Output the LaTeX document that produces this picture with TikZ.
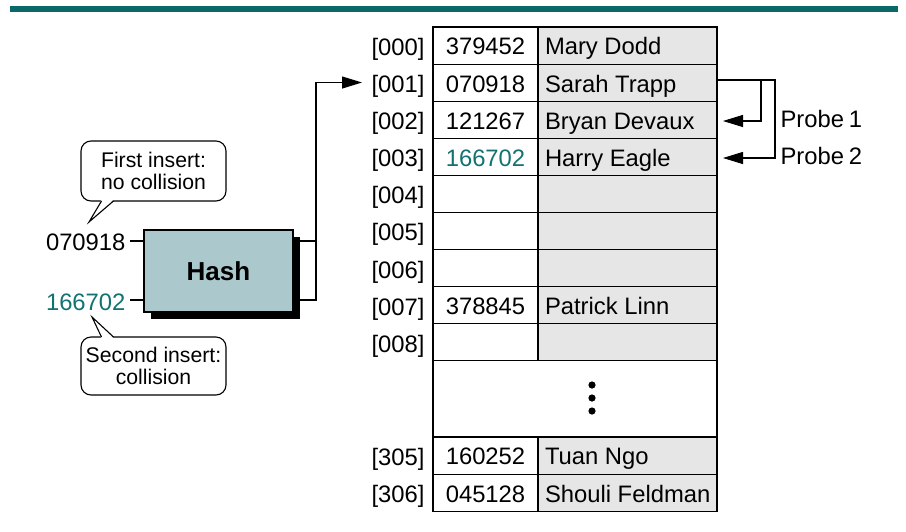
\documentclass[tikz,border=0pt]{standalone}
\usepackage{fontspec}
\setmainfont{Liberation Sans}
\usetikzlibrary{arrows.meta,shadows}
\definecolor{barteal}{HTML}{0B6868}
\definecolor{txtteal}{HTML}{127272}
\definecolor{hashfill}{HTML}{ABC9CC}
\definecolor{namegray}{HTML}{E6E6E6}
\newcommand{\mainfs}{\fontsize{23.8}{28}\selectfont}
\newcommand{\callfs}{\fontsize{21.2}{22}\selectfont}
\begin{document}
\begin{tikzpicture}[x=1pt,y=-1pt,line width=1.1pt,line join=miter,
  numcell/.style={draw,fill=white,minimum width=105pt,minimum height=37.1pt,inner sep=0pt,
    text height=16.8pt,text depth=0pt,font=\mainfs},
  namecell/.style={draw,fill=namegray,minimum width=179pt,minimum height=37.1pt,inner xsep=7pt,inner ysep=0pt,
    text height=16.8pt,text depth=0pt,font=\mainfs},
  idxlab/.style={anchor=east,inner sep=0pt,text height=16.8pt,text depth=0pt,font=\mainfs},
  plain/.style={inner sep=0pt,text height=16.8pt,text depth=0pt,font=\mainfs},
  arr/.style={-{Triangle[length=20pt,width=12pt]}},
  callbox/.style={draw,fill=white,rounded corners=10pt,minimum width=145pt,align=center,font=\callfs,inner sep=0pt},
  hashbox/.style={draw,fill=hashfill,minimum width=149pt,minimum height=82pt,font=\fontsize{26}{30}\selectfont\bfseries,
    drop shadow={shadow xshift=7pt,shadow yshift=-7pt,opacity=1,fill=black}}]
\useasboundingbox (0,0) rectangle (906,531);
% top bar
\fill[barteal] (10,6) rectangle (898,12);
% table rows
\foreach \i/\yc/\idx/\num/\nm in {
  0/45.55/000/379452/Mary Dodd,
  1/82.65/001/070918/Sarah Trapp,
  2/119.75/002/121267/Bryan Devaux,
  3/156.85/003/{\textcolor{txtteal}{166702}}/Harry Eagle,
  4/193.95/004/{}/{},
  5/231.05/005/{}/{},
  6/268.15/006/{}/{},
  7/305.25/007/378845/Patrick Linn,
  8/342.35/008/{}/{},
  9/455.5/305/160252/Tuan Ngo,
  10/492.6/306/045128/Shouli Feldman}{
  \node[numcell] (n\i) at (485.5,\yc) {\raisebox{-1pt}{\num}};
  \node[namecell] (m\i) at (627.5,\yc) {\raisebox{-1pt}{\makebox[165pt][l]{\nm}}};
  \node[idxlab] (x\i) at (425,\yc+1.5) {[\idx]};
}
% gap with dots
\node[draw,fill=white,minimum width=284pt,minimum height=76.05pt,inner sep=0pt] (gap) at (575,398.9) {};
\foreach \k/\yy in {1/385,2/398,3/411}{
  \fill (592,\yy) circle (3.6pt) coordinate (d\k);
}
% hash
\node[hashbox] (hash) at (218.5,271) {Hash};
\node[plain,anchor=east] (in1) at (126,242) {070918};
\node[plain,anchor=east,text=txtteal] (in2) at (126,302) {166702};
\coordinate (i1) at (130,241);
\coordinate (i2) at (130,300);
\draw (i1) -- (i1 -| hash.west);
\draw (i2) -- (i2 -| hash.west);
\coordinate (o1) at (316,241);
\coordinate (o2) at (316,300);
\coordinate (o3) at (316,82.5);
\coordinate (a1) at (362,82.5);
\draw (o1 -| hash.east) -- (o1);
\draw[arr] (o2 -| hash.east) -- (o2) -- (o3) -- (a1);
% probes
\coordinate (p0) at (717,80);
\coordinate (pk1) at (761,80);
\coordinate (pk2) at (775,80);
\coordinate (t1) at (723,121);
\coordinate (t2) at (723,158);
\draw[arr] (p0) -- (pk2) |- (t2);
\draw[arr] (pk1) |- (t1);
\node[plain,anchor=west] (pr1) at (780,119.5) {Probe\kern0.2em 1};
\node[plain,anchor=west] (pr2) at (780,156.5) {Probe\kern0.2em 2};
% callouts
\node[callbox,minimum height=60pt] (c1) at (153.5,171) {First insert:\\no collision};
\fill[white] (101.5,199.8) -- (113.5,199.8) -- (89,222) -- cycle;
\draw (101.5,201) -- (89,222) -- (113.5,201);
\node[callbox,minimum height=58pt] (c2) at (153.5,366) {Second insert:\\collision};
\fill[white] (101.5,338.2) -- (113.5,338.2) -- (92,317) -- cycle;
\draw (101.5,337) -- (92,317) -- (113.5,337);
\end{tikzpicture}
\end{document}
